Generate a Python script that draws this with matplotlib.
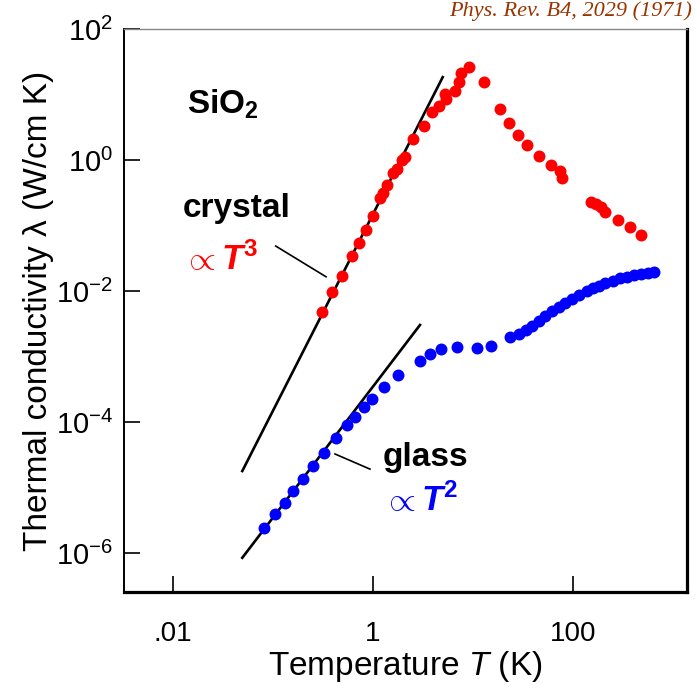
import numpy as np
import matplotlib
matplotlib.use("Agg")
import matplotlib.pyplot as plt

plt.rcParams["font.family"] = ["Liberation Sans", "DejaVu Sans"]
plt.rcParams["mathtext.fontset"] = "custom"
plt.rcParams["mathtext.rm"] = "Liberation Sans"
plt.rcParams["mathtext.it"] = "Liberation Sans:italic"
plt.rcParams["mathtext.bf"] = "Liberation Sans:bold"
plt.rcParams["mathtext.sf"] = "Liberation Sans:italic:bold"

# --- data
crystal_T = [0.311, 0.392, 0.49, 0.617, 0.724, 0.845, 0.993, 1.175, 1.268, 1.39,
             1.596, 1.75, 1.963, 2.09, 2.53, 3.2, 3.86, 4.57, 5.25, 5.33,
             6.61, 7.3, 7.53, 9.19, 12.9, 18.6, 23.1, 28.2, 34.9, 46.0,
             59.8, 74.7, 77.1, 151, 170, 191, 210, 282, 372, 475]
crystal_k = [4.86e-3, 9.55e-3, 0.0168, 0.0339, 0.0546, 0.0854, 0.141, 0.260, 0.317, 0.415,
             0.626, 0.721, 1.0, 1.12, 2.07, 3.30, 5.35, 6.72, 10.1, 8.45,
             11.3, 15.7, 21.5, 26.6, 15.4, 6.01, 3.63, 2.43, 1.69, 1.15,
             0.830, 0.687, 0.531, 0.231, 0.211, 0.190, 0.162, 0.121, 0.094, 0.0716]

glass_T = [0.0813, 0.1054, 0.131, 0.16, 0.198, 0.253, 0.321, 0.43, 0.546, 0.656,
           0.807, 0.984, 1.28, 1.78, 2.97, 3.69, 4.82, 6.92, 11.0, 15.0,
           23.4, 29.0, 34.1, 39.1, 45.2, 52.5, 61.9, 71.9, 83.2, 98.4,
           116, 137, 160, 183, 210, 249, 295, 349, 410, 479,
           558, 650]
glass_k = [2.43e-6, 3.90e-6, 5.74e-6, 8.75e-6, 1.35e-5, 2.13e-5, 3.36e-5, 5.70e-5, 8.91e-5, 1.21e-4,
           1.68e-4, 2.27e-4, 3.39e-4, 5.22e-4, 8.63e-4, 1.08e-3, 1.30e-3, 1.38e-3, 1.36e-3, 1.46e-3,
           2.0e-3, 2.18e-3, 2.56e-3, 2.94e-3, 3.51e-3, 4.15e-3, 4.90e-3, 5.75e-3, 6.67e-3, 7.55e-3,
           8.60e-3, 0.0100, 0.0110, 0.0119, 0.0134, 0.0142, 0.0156, 0.0165, 0.0175, 0.0182,
           0.0190, 0.0195]

# power-law guides
crystal_fit_T = np.array([0.0493, 4.98])
crystal_fit_A, crystal_fit_n = 0.149, 3
glass_fit_T = np.array([0.0493, 2.95])
glass_fit_A, glass_fit_n = 3.48e-4, 2

xticks = [0.01, 1, 100]
xticklabels = [".01", "1", "100"]
yticks = [1e-6, 1e-4, 1e-2, 1e0, 1e2]
yticklabels = [r"$10^{-6}$", r"$10^{-4}$", r"$10^{-2}$", r"$10^{0}$", r"$10^{2}$"]

# --- figure
fig = plt.figure(figsize=(6.96, 6.91), dpi=100)
ax = fig.add_axes([124 / 696, 99 / 691, 563 / 696, 563 / 691])

ax.plot(crystal_fit_T, crystal_fit_A * crystal_fit_T ** crystal_fit_n, color="black", lw=1.9)
ax.plot(glass_fit_T, glass_fit_A * glass_fit_T ** glass_fit_n, color="black", lw=1.9)
ax.plot(crystal_T, crystal_k, "o", color="red", ms=8.6, mec="none")
ax.plot(glass_T, glass_k, "o", color="blue", ms=8.6, mec="none")

# pointer lines to the guides
ax.plot([0.1064, 0.339], [0.0486, 0.0165], color="black", lw=1.2)
ax.plot([0.417, 0.933], [3.25e-5, 1.91e-5], color="black", lw=1.2)

ax.set_xscale("log")
ax.set_yscale("log")
ax.set_xlim(10 ** -2.49, 10 ** 3.14)
ax.set_ylim(10 ** -6.595, 100)

ax.set_xticks(xticks)
ax.set_xticklabels(xticklabels)
ax.set_yticks(yticks)
ax.set_yticklabels(yticklabels)
ax.minorticks_off()
ax.tick_params(axis="both", direction="in", length=11.5, width=1.2)
ax.tick_params(axis="x", pad=21, labelsize=20)
ax.tick_params(axis="y", pad=8, labelsize=21)

for side in ["bottom", "right"]:
    ax.spines[side].set_linewidth(2.3)
ax.spines["left"].set_linewidth(1.4)
ax.spines["top"].set_linewidth(1.0)
ax.spines["top"].set_color("#888888")

ax.set_xlabel(r"Temperature $\mathit{T}$ (K)", fontsize=24)
ax.set_ylabel("Thermal conductivity λ (W/cm K)", fontsize=24)
ax.xaxis.set_label_coords(0.499, -0.101)
ax.yaxis.set_label_coords(-0.125, 0.5)

# annotations
ax.text(0.0137, 5.2, r"SiO$_\mathbf{2}$", fontsize=24, fontweight="bold")
ax.text(0.0126, 0.136, "crystal", fontsize=24, fontweight="bold")
ax.text(0.0126, 0.0214, r"$\propto\mathsf{T}^{\mathbf{3}}$", fontsize=25, color="red")
ax.text(1.25, 2.15e-5, "glass", fontsize=24, fontweight="bold")
ax.text(1.25, 4.42e-6, r"$\propto\mathsf{T}^{\mathbf{2}}$", fontsize=25, color="blue")

fig.text(692 / 696, 1 - 16 / 691, "Phys. Rev. B4, 2029 (1971)", fontsize=16,
         family="Liberation Serif", style="italic", color="#993300", ha="right", va="baseline")

fig.savefig("out.png", dpi=100)
